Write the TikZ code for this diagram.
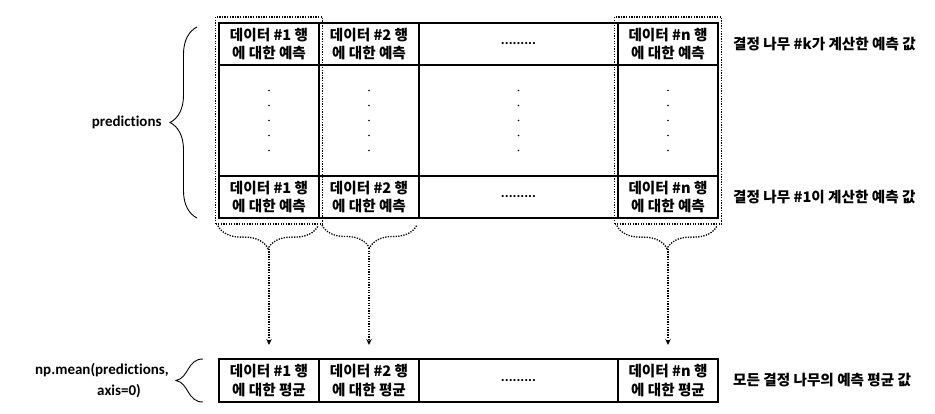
\documentclass[tikz,border=0pt]{standalone}
\usepackage{fontspec}
\setmainfont{Carlito}[Ligatures=NoCommon]
\newfontfamily\kr{Noto Sans CJK KR}
\usetikzlibrary{positioning,fit,decorations.pathreplacing,arrows.meta}

\begin{document}
\begin{tikzpicture}[x=1pt,y=-1pt,
    cell/.style={draw,line width=1.2pt,minimum width=100pt,minimum height=42pt,inner sep=0pt,outer sep=0pt,
        align=center,font=\kr\bfseries\fontsize{14.6}{18.5}\selectfont},
    wide/.style={minimum width=199pt},
    note/.style={inner sep=0pt,font=\kr\bfseries\fontsize{14.6}{17}\selectfont},
    latin/.style={inner sep=0pt,align=right,font=\bfseries\fontsize{15}{21}\selectfont},
    dotline/.style={line width=1.3pt,dash pattern=on 1.3pt off 1.3pt},
    bigbrace/.style={line width=0.9pt,decorate,decoration={brace,amplitude=27pt}},
    smallbrace/.style={dotline,decorate,decoration={brace,mirror,amplitude=23pt}}]
    \useasboundingbox (0,0) rectangle (935,414);

    \node[cell] (p1) at (269,44) {데이터 \#1 행\\에 대한 예측};
    \node[cell,right=0pt of p1] (p2) {데이터 \#2 행\\에 대한 예측};
    \node[cell,wide,right=0pt of p2] (p3) {\rmfamily .........};
    \node[cell,right=0pt of p3] (p4) {데이터 \#n 행\\에 대한 예측};

    \node[cell,minimum height=111pt,below=0pt of p1] (m1) {};
    \node[cell,minimum height=111pt,below=0pt of p2] (m2) {};
    \node[cell,wide,minimum height=111pt,below=0pt of p3] (m3) {};
    \node[cell,minimum height=111pt,below=0pt of p4] (m4) {};

    \node[cell,below=0pt of m1] (q1) {데이터 \#1 행\\에 대한 예측};
    \node[cell,below=0pt of m2] (q2) {데이터 \#2 행\\에 대한 예측};
    \node[cell,wide,below=0pt of m3] (q3) {\rmfamily .........};
    \node[cell,below=0pt of m4] (q4) {데이터 \#n 행\\에 대한 예측};

    \foreach \c in {m1,m2,m3,m4}
        \foreach \y in {-30,-15,0,15,30}
            \fill ([yshift=\y pt]\c.center) circle (0.8pt);

    \node[cell,minimum height=43pt] (a1) at (269,380.5) {데이터 \#1 행\\에 대한 평균};
    \node[cell,minimum height=43pt,right=0pt of a1] (a2) {데이터 \#2 행\\에 대한 평균};
    \node[cell,wide,minimum height=43pt,right=0pt of a2] (a3) {\rmfamily .........};
    \node[cell,minimum height=43pt,right=0pt of a3] (a4) {데이터 \#n 행\\에 대한 평균};

    \node[note,right=15pt of p4] (k) {결정 나무 \#k가 계산한 예측 값};
    \node[note,right=15pt of q4] (one) {결정 나무 \#1이 계산한 예측 값};
    \node[note,right=15pt of a4] (avg) {모든 결정 나무의 예측 평균 값};

    \node[dotline,draw,inner xsep=3.5pt,inner ysep=6pt,fit=(p1)(q1)] (s1) {};
    \node[dotline,draw,inner xsep=3.5pt,inner ysep=6pt,fit=(p4)(q4)] (s4) {};

    \draw[bigbrace] ([xshift=-22pt]q1.south west) -- ([xshift=-22pt,yshift=-4pt]p1.north west)
        node[latin,midway,left=35pt] (pred) {predictions};

    \coordinate (b1) at ([xshift=-16pt]a1.north west);
    \coordinate (bt) at ([xshift=-43pt]a1.west);
    \coordinate (b2) at ([xshift=-16pt]a1.south west);
    \draw[line width=0.9pt] (b1) .. controls +(-16,0) and +(13,-2.5) .. (bt)
        .. controls +(13,2.5) and +(-16,0) .. (b2);
    \node[latin,left=7pt of bt] (mean) {np.mean(predictions,\\axis=0)\hspace*{28pt}};

    \draw[smallbrace] ([xshift=3pt,yshift=-1pt]s1.south west) -- ([xshift=-5pt,yshift=-1pt]s1.south east);
    \draw[smallbrace] ([xshift=3pt,yshift=-7pt]q2.south west) -- ([xshift=-2pt,yshift=-7pt]q2.south east);
    \draw[smallbrace] ([xshift=3pt,yshift=-1pt]s4.south west) -- ([xshift=-5pt,yshift=-1pt]s4.south east);

    \coordinate (t1) at ([yshift=-24pt]s1.south);
    \coordinate (t2) at ([yshift=-30pt]q2.south);
    \coordinate (t4) at ([yshift=-24pt]s4.south);
    \foreach \t/\a in {t1/a1,t2/a2,t4/a4}
        \draw[dotline,-{Stealth[length=6pt,width=5.5pt]}] (\t) -- ([yshift=14pt]\a.north);
\end{tikzpicture}
\end{document}
